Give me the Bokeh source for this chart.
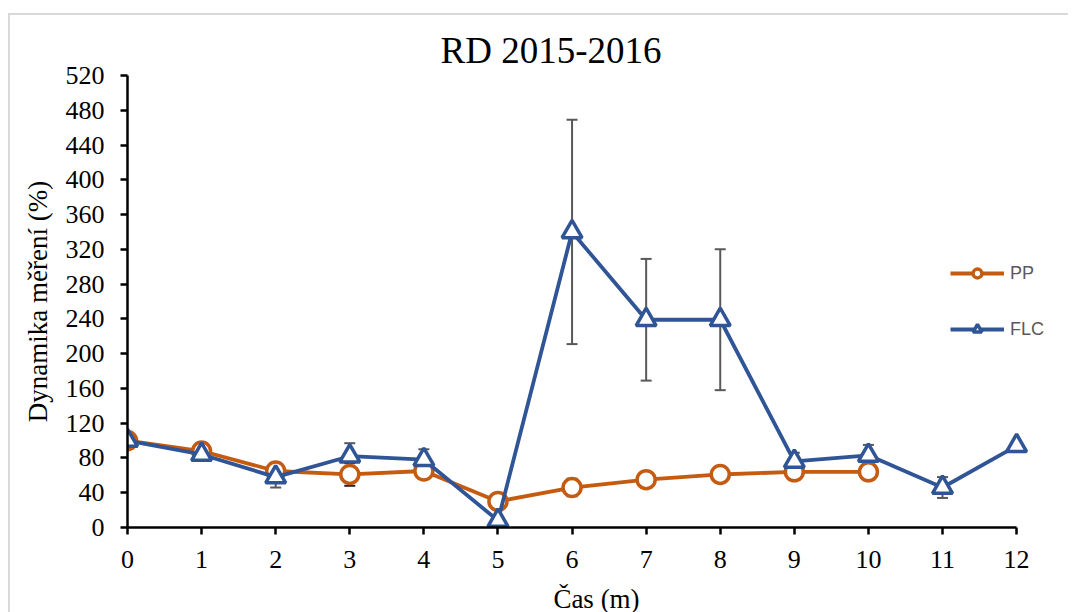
from bokeh.plotting import figure
from bokeh.models import ColumnDataSource, Whisker, Legend, LegendItem, FixedTicker, Range1d, TeeHead, Title
from bokeh.embed import file_html
from bokeh.resources import INLINE

# data
x = [0, 1, 2, 3, 4, 5, 6, 7, 8, 9, 10, 11, 12]
flc = [100, 84, 58, 82, 78, 8, 340, 239, 239, 76, 83, 46, 94]
pp_x = [0, 1, 2, 3, 4, 5, 6, 7, 8, 9, 10]
pp = [100, 88, 65, 61, 65, 30, 46, 55, 61, 64, 64]

pp_err_x = [3, 4, 6, 7, 9, 10]
pp_err_y = [61, 65, 46, 55, 64, 64]
pp_err = [13, 6, 10, 8, 8, 8]

flc_err_x = [2, 3, 4, 6, 7, 8, 9, 10, 11]
flc_err_y = [58, 82, 78, 340, 239, 239, 76, 83, 46]
flc_err = [12, 15, 12, 129, 70, 81, 10, 12, 12]

y_ticks = list(range(0, 521, 40))

ORANGE = "#C55A11"
BLUE = "#2F5597"

p = figure(frame_width=938, frame_height=452, output_backend="svg", toolbar_location=None,
           x_range=Range1d(0, 12.66), y_range=Range1d(0, 520),
           min_border_left=117, min_border_right=3, min_border_top=60, min_border_bottom=85)
p.styles = {"margin-left": "8px", "margin-top": "13px",
            "border-left": "2px solid #d9d9d9", "border-top": "2px solid #d9d9d9"}
t = Title(text="RD 2015-2016", text_font="Liberation Serif", text_font_size="37px",
          text_font_style="normal", text_color="black", align="left", offset=313)
p.add_layout(t, "above")

p.grid.visible = False
p.outline_line_color = None

for ax in (p.xaxis[0], p.yaxis[0]):
    ax.axis_line_color = "black"
    ax.axis_line_width = 2.5
    ax.major_tick_line_color = "black"
    ax.major_tick_line_width = 2.5
    ax.major_tick_out = 7
    ax.major_tick_in = 0
    ax.minor_tick_line_color = None
    ax.major_label_text_font = "Liberation Serif"
    ax.major_label_text_font_size = "26px"
    ax.major_label_text_color = "black"
    ax.axis_label_text_font = "Liberation Serif"
    ax.axis_label_text_font_size = "27px"
    ax.axis_label_text_font_style = "normal"
    ax.axis_label_text_color = "black"

p.xaxis.bounds = (0, 12)
p.xaxis.ticker = FixedTicker(ticks=x)
p.yaxis.ticker = FixedTicker(ticks=y_ticks)
p.xaxis.axis_label = "Čas (m)"
p.yaxis.axis_label = "Dynamika měření (%)"
p.xaxis.axis_label_standoff = 13
p.yaxis.axis_label_standoff = 10
p.xaxis.major_label_standoff = 16
p.yaxis.major_label_standoff = 16

src_pp = ColumnDataSource(dict(x=pp_x, y=pp))
src_flc = ColumnDataSource(dict(x=x, y=flc))

l_pp = p.line("x", "y", source=src_pp, line_color=ORANGE, line_width=3.8)
m_pp = p.scatter("x", "y", source=src_pp, marker="circle", size=18, line_color=ORANGE,
                 line_width=3.5, fill_color="white")
l_flc = p.line("x", "y", source=src_flc, line_color=BLUE, line_width=3.8)
m_flc = p.scatter("x", "y", source=src_flc, marker="triangle", size=20, line_color=BLUE,
                  line_width=3.5, fill_color="white")

pe = ColumnDataSource(dict(x=pp_err_x,
                           lo=[a - b for a, b in zip(pp_err_y, pp_err)],
                           hi=[a + b for a, b in zip(pp_err_y, pp_err)]))
fe = ColumnDataSource(dict(x=flc_err_x,
                           lo=[a - b for a, b in zip(flc_err_y, flc_err)],
                           hi=[a + b for a, b in zip(flc_err_y, flc_err)]))
w1 = Whisker(source=pe, base="x", lower="lo", upper="hi", line_color="#222222", line_width=2,
             upper_head=TeeHead(size=11, line_color="#222222", line_width=2),
             lower_head=TeeHead(size=11, line_color="#222222", line_width=2))
w2 = Whisker(source=fe, base="x", lower="lo", upper="hi", line_color="#595959", line_width=2,
             upper_head=TeeHead(size=11, line_color="#595959", line_width=2),
             lower_head=TeeHead(size=11, line_color="#595959", line_width=2))
p.add_layout(w1)
p.add_layout(w2)

legend = Legend(items=[LegendItem(label="PP", renderers=[l_pp, m_pp]),
                       LegendItem(label="FLC", renderers=[l_flc, m_flc])],
                location=(823, 187), orientation="vertical",
                label_text_font="Liberation Sans", label_text_font_size="18px",
                label_text_color="#595959", glyph_width=54, glyph_height=22,
                spacing=34, border_line_color=None, background_fill_alpha=0,
                label_standoff=6, padding=10, margin=0)
p.add_layout(legend, "center")

open("out.html", "w").write(file_html(p, INLINE))
